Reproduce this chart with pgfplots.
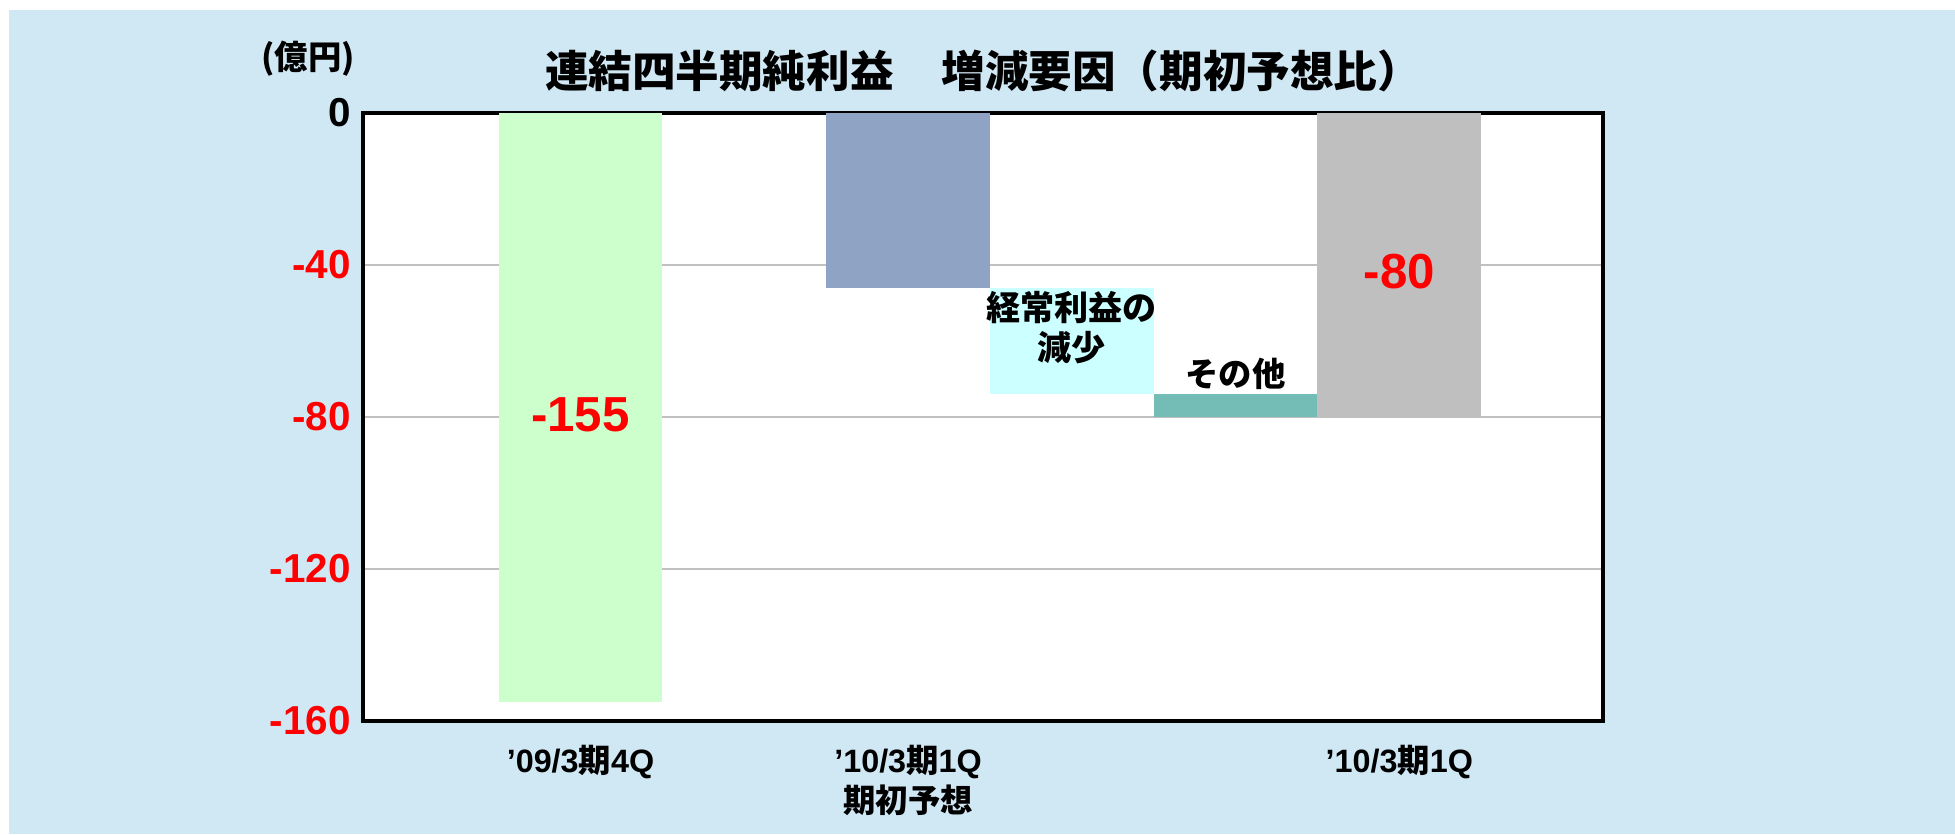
\documentclass[border=0pt]{standalone}
\usepackage{fontspec}
\setmainfont{Liberation Sans}
\newfontfamily\jp{Noto Sans CJK JP}
\usepackage{pgfplots}
\pgfplotsset{compat=1.18}

\definecolor{bgblue}{HTML}{D0E7F4}
\definecolor{barGreen}{HTML}{CCFFCC}
\definecolor{barSlate}{HTML}{8FA4C4}
\definecolor{barCyan}{HTML}{CCFFFF}
\definecolor{barTeal}{HTML}{74BDB6}
\definecolor{barGrey}{HTML}{BFBFBF}
\definecolor{gridGrey}{HTML}{C0C0C0}

\begin{document}
\begin{tikzpicture}
% 1 px of the reference = 0.1 mm
\fill[white] (0,0) rectangle (195.5mm,83.4mm);
\fill[bgblue] (0.9mm,0) rectangle (195.5mm,82.4mm);
\begin{axis}[
    at={(36.3mm,11.3mm)}, anchor=south west,
    scale only axis,
    width=124mm, height=60.8mm,
    axis background/.style={fill=white},
    axis line style={black, line width=0.9pt},
    ybar stacked, bar width=1,
    xmin=-1.328, xmax=6.244,
    ymin=-160, ymax=0,
    xtick={0,2,5},
    xticklabels={
        {’09/3{\jp 期}4Q},
        {’10/3{\jp 期}1Q\\{\jp 期初予想}},
        {’10/3{\jp 期}1Q}},
    xticklabel style={align=center, font=\fontsize{9.2}{11.4}\selectfont\bfseries, yshift=-1.2mm},
    ytick={-160,-120,-80,-40,0},
    yticklabels={
        \textcolor{red}{-160}, \textcolor{red}{-120},
        \textcolor{red}{-80}, \textcolor{red}{-40}, 0},
    yticklabel style={font=\fontsize{11.5}{13}\selectfont\bfseries},
    major tick length=0pt,
    ymajorgrids,
    grid style={gridGrey, line width=0.3pt},
    clip=false,
]
% invisible base for the floating bars
\addplot[fill=none, draw=none] coordinates {(0,0) (2,0) (3,-46) (4,-74) (5,0)};
\addplot[fill=barGreen, draw=none] coordinates {(0,-155) (2,0) (3,0) (4,0) (5,0)};
\addplot[fill=barSlate, draw=none] coordinates {(0,0) (2,-46) (3,0) (4,0) (5,0)};
\addplot[fill=barCyan, draw=none] coordinates {(0,0) (2,0) (3,-28) (4,0) (5,0)};
\addplot[fill=barTeal, draw=none] coordinates {(0,0) (2,0) (3,0) (4,-6) (5,0)};
\addplot[fill=barGrey, draw=none] coordinates {(0,0) (2,0) (3,0) (4,0) (5,-80)};

\coordinate (lab155) at (axis cs:0,-79.5);
\coordinate (lab80) at (axis cs:5,-41.8);
\coordinate (labOrd) at (axis cs:3,-56.4);
\coordinate (labOther) at (axis cs:4,-68.7);
\coordinate (top) at (rel axis cs:0.5,1);
\coordinate (topleft) at (rel axis cs:0,1);
\end{axis}
\node[red, font=\fontsize{14}{16}\selectfont\bfseries] at (lab155) {-155};
\node[red, font=\fontsize{14}{16}\selectfont\bfseries] at (lab80) {-80};
\node[align=center, font=\jp\bfseries\fontsize{9.7}{11.3}\selectfont] at (labOrd) {経常利益の\\減少};
\node[font=\jp\bfseries\fontsize{9.5}{11}\selectfont] at (labOther) {その他};
\node[font=\jp\bfseries\fontsize{12.4}{14}\selectfont] at ([yshift=4.2mm]top) {連結四半期純利益\hspace{1.1em}増減要因（期初予想比）};
\node[font=\jp\bfseries\fontsize{9.5}{11}\selectfont] at ([xshift=-5.5mm, yshift=5.4mm]topleft) {(億円)};
\end{tikzpicture}
\end{document}
